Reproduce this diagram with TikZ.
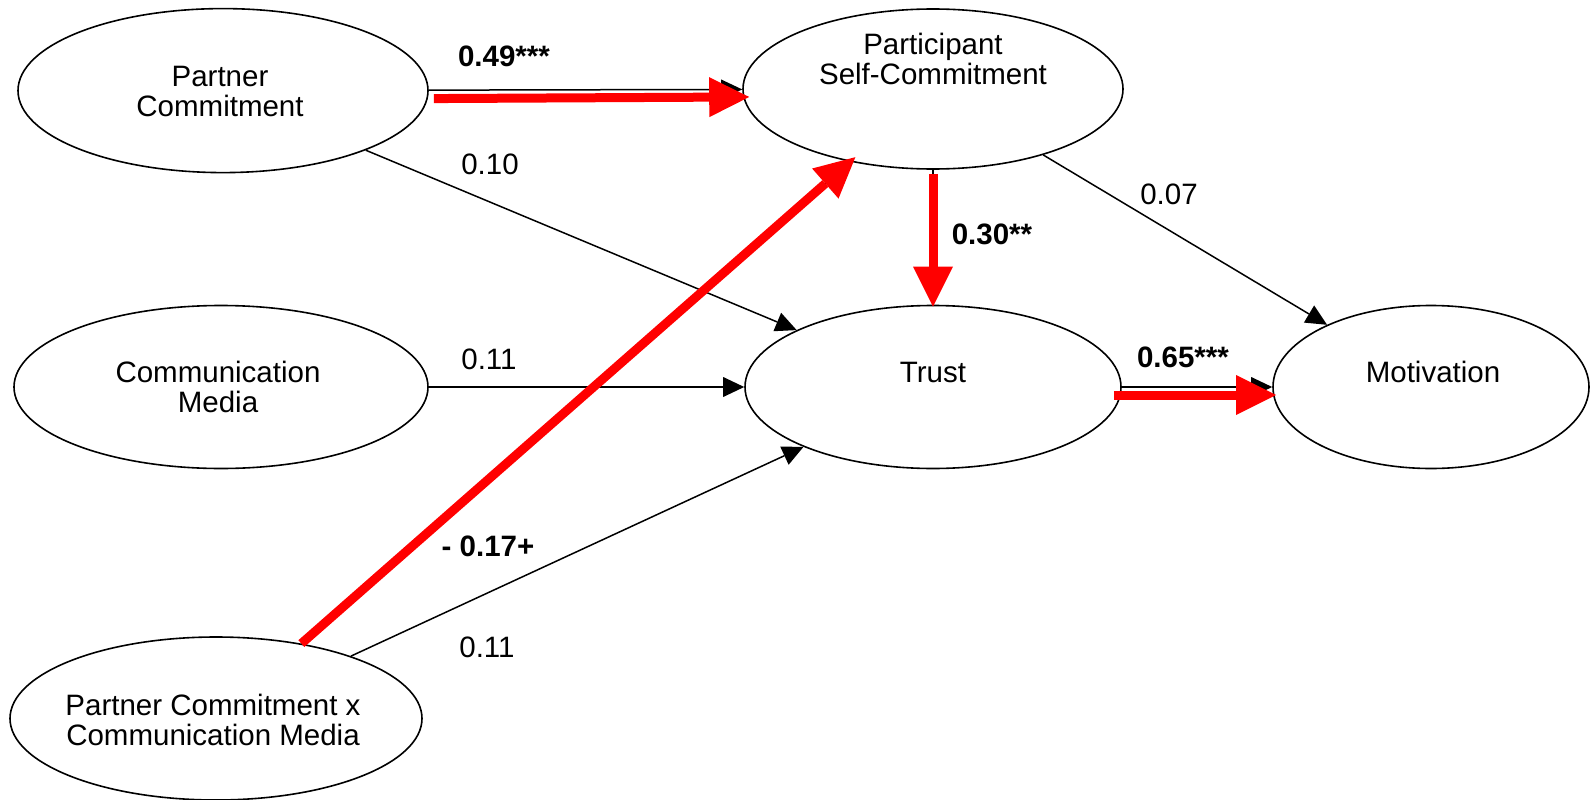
\documentclass[tikz,border=0pt]{standalone}
\usepackage{fontspec}
\setmainfont{Liberation Sans}
\usetikzlibrary{shapes.geometric,arrows.meta}
\begin{document}
\begin{tikzpicture}[x=1pt,y=-1pt,
  latent/.style={draw,ellipse,line width=1.6pt,inner sep=0pt},
  vtext/.style={font=\fontsize{29.5}{30}\selectfont,align=center,inner sep=0pt},
  coef/.style={font=\fontsize{29.5}{30}\selectfont,inner sep=0pt},
  coefb/.style={font=\fontsize{29.5}{30}\selectfont\bfseries,inner sep=0pt},
  blk/.style={draw=black,line width=1.5pt,-{Triangle[length=21pt,width=20pt,line width=0pt]}},
  sig/.style={draw=red,line width=9pt,-{Triangle[length=40pt,width=40pt,line width=0pt]}}
]
\useasboundingbox (0,0) rectangle (1590,800);
\fill[white] (0,0) rectangle (1590,800);

\node[latent,minimum width=410pt,minimum height=164pt] (pc) at (223,90.6) {};
\node[latent,minimum width=380pt,minimum height=160pt] (psc) at (933,89) {};
\node[latent,minimum width=414pt,minimum height=163pt] (cm) at (221,387) {};
\node[latent,minimum width=376pt,minimum height=163pt] (tr) at (933,387) {};
\node[latent,minimum width=316pt,minimum height=163pt] (mo) at (1431,387) {};
\node[latent,minimum width=412pt,minimum height=163pt] (pcm) at (216,718.5) {};

\node[vtext] (tpc) at (220,91) {Partner\\Commitment};
\node[vtext] (tpsc) at (933,59) {Participant\\Self-Commitment};
\node[vtext] (tcm) at (218,387) {Communication\\Media};
\node[vtext] (ttr) at (933,372) {Trust};
\node[vtext] (tmo) at (1433,372) {Motivation};
\node[vtext] (tpcm) at (213,720) {Partner Commitment x\\Communication Media};

\draw[blk] (pc) -- (psc);
\draw[blk] (pc) -- (tr);
\draw[blk] (cm) -- (tr);
\draw[blk] (pcm) -- (tr);
\draw[blk] (psc) -- (mo);
\draw[blk] (psc) -- (tr);
\draw[blk] (tr) -- (mo);
\draw[blk] (pcm) -- (psc);

\draw[sig,shorten <=5pt,shorten >=-7pt] ([yshift=-8pt]pc.east) -- ([yshift=-8pt]psc.west);
\draw[sig,shorten <=-8pt,shorten >=-4pt] ([yshift=-8pt]tr.east) -- ([yshift=-8pt]mo.west);
\draw[sig,shorten <=4pt,shorten >=-2pt] (psc) -- (tr);
\draw[sig,shorten >=-7pt] (pcm) -- (psc);

\node[coefb] (l1) at (504,56) {0.49***};
\node[coef] (l2) at (490,164) {0.10};
\node[coef] (l3) at (1169,194) {0.07};
\node[coefb] (l4) at (992,234) {0.30**};
\node[coef] (l5) at (489,359) {0.11};
\node[coefb] (l6) at (1183,357) {0.65***};
\node[coefb] (l7) at (488,546) {- 0.17+};
\node[coef] (l8) at (487,647) {0.11};
\end{tikzpicture}
\end{document}
